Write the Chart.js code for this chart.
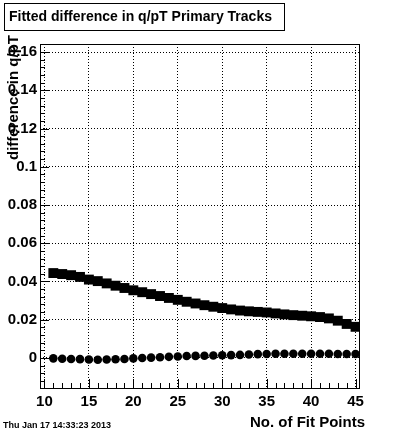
<!DOCTYPE html>
<html>
<head>
<meta charset="utf-8">
<script src="https://cdn.jsdelivr.net/npm/chart.js@4"></script>
<style>
  html, body { margin: 0; padding: 0; background: #fff; }
  #wrap { position: relative; width: 400px; height: 433px; }
</style>
</head>
<body>
<div id="wrap"><canvas id="myChart" width="400" height="433"></canvas></div>
<script>
// values
const fitPoints = [11, 12, 13, 14, 15, 16, 17, 18, 19, 20, 21, 22, 23, 24, 25, 26, 27, 28,
    29, 30, 31, 32, 33, 34, 35, 36, 37, 38, 39, 40, 41, 42, 43, 44, 45];
const squareVals = [0.0444, 0.0439, 0.0433, 0.0424, 0.0410, 0.0402, 0.0390, 0.0378, 0.0366,
    0.0354, 0.0344, 0.0334, 0.0324, 0.0314, 0.0304, 0.0294, 0.0285, 0.0276, 0.0268, 0.0261,
    0.0254, 0.0248, 0.0244, 0.0241, 0.0238, 0.0233, 0.0228, 0.0224, 0.0221, 0.0218, 0.0214,
    0.0207, 0.0195, 0.0178, 0.0163];
const circleVals = [-0.0002, -0.0004, -0.0005, -0.0006, -0.0008, -0.0009, -0.0008, -0.0007,
    -0.0005, -0.0002, 0.0000, 0.0002, 0.0004, 0.0006, 0.0008, 0.0010, 0.0011, 0.0012, 0.0013,
    0.0014, 0.0015, 0.0016, 0.0018, 0.0020, 0.0021, 0.0022, 0.0022, 0.0022, 0.0022, 0.0022,
    0.0022, 0.0022, 0.0021, 0.0021, 0.0021];

const xTicks = [10, 15, 20, 25, 30, 35, 40, 45];
const yTicks = [0, 0.02, 0.04, 0.06, 0.08, 0.1, 0.12, 0.14, 0.16];
const yTickLabels = ['0', '0.02', '0.04', '0.06', '0.08', '0.1', '0.12', '0.14', '0.16'];

const titleText = 'Fitted difference in q/pT Primary Tracks';
const xTitle = 'No. of Fit Points';
const yTitle = 'difference in q/pT';
const dateText = 'Thu Jan 17 14:33:23 2013';

function toXY(xs, ys) {
    let out = [];
    for (let i = 0; i < xs.length; i++) {
        out.push({ x: xs[i], y: ys[i] });
    }
    return out;
}

const FONT = '"Liberation Sans", Arial, sans-serif';

// frame, inward ticks, titles and date stamp (ROOT look)
const rootDecor = {
    id: 'rootDecor',
    afterDraw(chart) {
        const ctx = chart.ctx;
        const a = chart.chartArea;
        const xs = chart.scales.x;
        const ys = chart.scales.y;
        ctx.save();
        ctx.strokeStyle = '#000';
        ctx.lineWidth = 1;
        ctx.strokeRect(a.left + 0.5, a.top + 0.5, a.right - a.left - 1, a.bottom - a.top);

        // x ticks, major every 5, minor every 1
        ctx.beginPath();
        for (let v = 10; v <= 45; v++) {
            const px = Math.round(xs.getPixelForValue(v)) + 0.5;
            const len = (v % 5 === 0) ? 9 : 5;
            ctx.moveTo(px, a.bottom);
            ctx.lineTo(px, a.bottom - len);
        }
        // y ticks, major every 0.02, minor every 0.004
        for (let k = -3; k <= 41; k++) {
            const v = k * 0.004;
            if (v < ys.min || v > ys.max) continue;
            const py = Math.round(ys.getPixelForValue(v)) + 0.5;
            const len = (k % 5 === 0) ? 9 : 5;
            ctx.moveTo(a.left, py);
            ctx.lineTo(a.left + len, py);
        }
        ctx.stroke();

        // title box
        ctx.fillStyle = '#fff';
        ctx.fillRect(4, 3, 281, 28);
        ctx.strokeRect(4.5, 3.5, 280, 27);
        ctx.fillStyle = '#000';
        ctx.font = 'bold 14px ' + FONT;
        ctx.textAlign = 'left';
        ctx.textBaseline = 'alphabetic';
        ctx.fillText(titleText, 9, 21);

        // axis titles
        ctx.font = 'bold 15px ' + FONT;
        ctx.textAlign = 'right';
        ctx.fillText(xTitle, 365, 427);

        ctx.save();
        ctx.translate(18, 35);
        ctx.rotate(-Math.PI / 2);
        ctx.textAlign = 'right';
        ctx.fillText(yTitle, 0, 0);
        ctx.restore();

        ctx.font = 'bold 9px ' + FONT;
        ctx.textAlign = 'left';
        ctx.fillText(dateText, 3, 428);
        ctx.restore();
    }
};

function main() {
    var ctx = document.getElementById('myChart').getContext('2d');
    var chart = new Chart(ctx, {
        type: 'scatter',
        data: {
            datasets: [{
                label: 'squares',
                data: toXY(fitPoints, squareVals),
                pointStyle: 'rect',
                pointRadius: 7,
                backgroundColor: '#000',
                borderColor: '#000',
                borderWidth: 0,
                showLine: false
            }, {
                label: 'circles',
                data: toXY(fitPoints, circleVals),
                pointStyle: 'circle',
                pointRadius: 4.3,
                backgroundColor: '#000',
                borderColor: '#000',
                borderWidth: 0,
                showLine: false
            }]
        },
        options: {
            responsive: false,
            devicePixelRatio: 1,
            animation: false,
            events: [],
            layout: { padding: { left: 0, top: 44, right: 40, bottom: 0 } },
            plugins: {
                legend: { display: false },
                tooltip: { enabled: false }
            },
            scales: {
                x: {
                    type: 'linear',
                    min: 9.5,
                    max: 45.5,
                    afterBuildTicks: function (scale) {
                        scale.ticks = xTicks.map(v => ({ value: v }));
                    },
                    afterFit: function (scale) { scale.height = 45; },
                    grid: { color: '#000', lineWidth: 1, drawTicks: false },
                    border: { display: false, dash: [1, 2] },
                    ticks: {
                        padding: 5,
                        color: '#000',
                        maxRotation: 0,
                        font: { family: FONT, size: 15, weight: 'bold' },
                        callback: function (v) { return String(v); }
                    }
                },
                y: {
                    type: 'linear',
                    min: -0.0157,
                    max: 0.1642,
                    afterBuildTicks: function (scale) {
                        scale.ticks = yTicks.map(v => ({ value: v }));
                    },
                    afterFit: function (scale) { scale.width = 40; },
                    grid: { color: '#000', lineWidth: 1, drawTicks: false },
                    border: { display: false, dash: [1, 2] },
                    ticks: {
                        padding: 3,
                        color: '#000',
                        font: { family: FONT, size: 15, weight: 'bold' },
                        callback: function (v, i) { return yTickLabels[i]; }
                    }
                }
            }
        },
        plugins: [rootDecor]
    });
}

main();
</script>
</body>
</html>
